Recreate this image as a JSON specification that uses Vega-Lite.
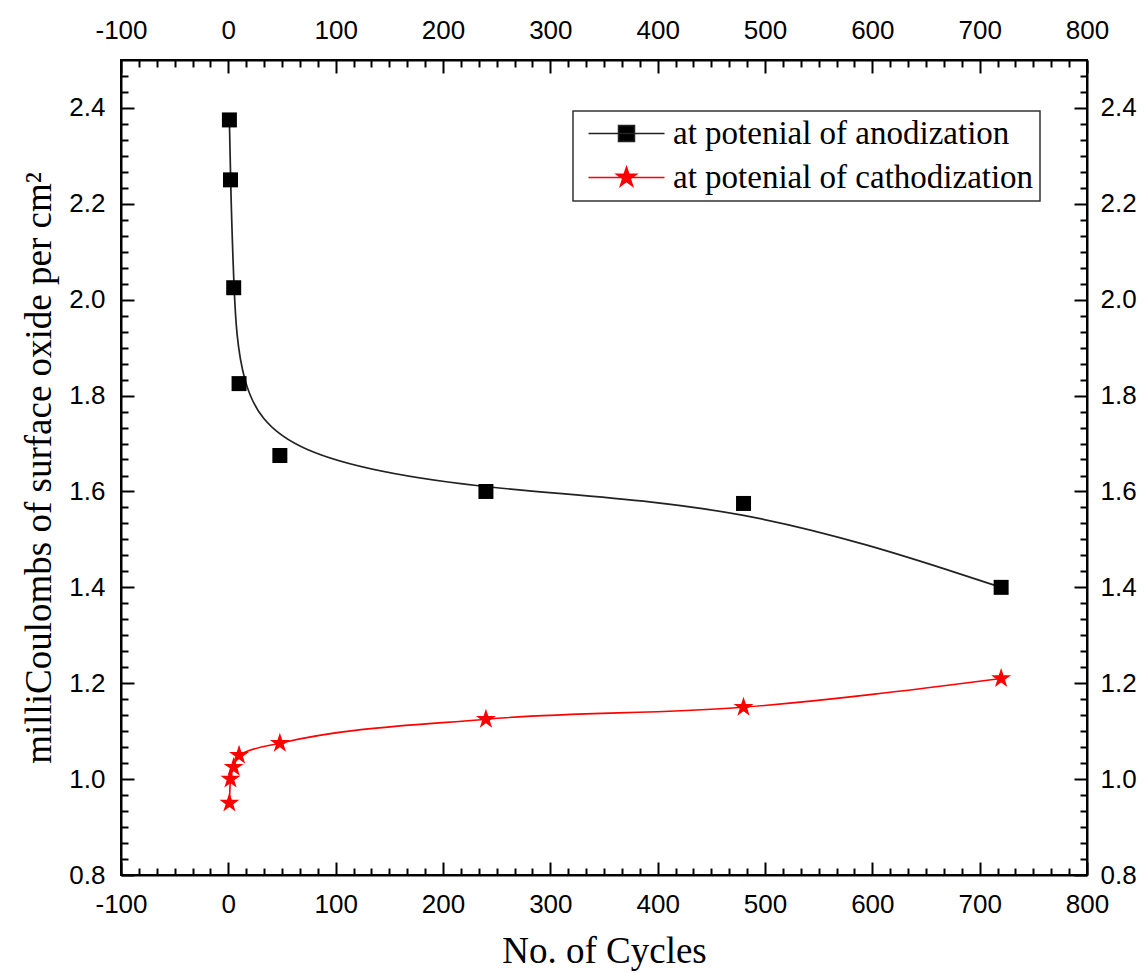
{
  "$schema": "https://vega.github.io/schema/vega-lite/v6.json",
  "width": 966,
  "height": 815,
  "autosize": "none",
  "padding": {"left": 121, "top": 60, "right": 57, "bottom": 98},
  "background": "white",
  "config": {
    "view": {"stroke": "black", "strokeWidth": 2},
    "axis": {
      "grid": false,
      "domainColor": "black",
      "domainWidth": 2,
      "tickColor": "black",
      "tickWidth": 2,
      "labelColor": "black",
      "labelFont": "Liberation Sans",
      "labelFontSize": 26,
      "labelFlush": false,
      "labelOverlap": false,
      "titleColor": "black",
      "titleFont": "Liberation Serif",
      "titleFontSize": 37,
      "titleFontWeight": "normal"
    }
  },
  "data": {
    "values": [
      {"cycles": 1, "charge": 2.375, "series": "at potenial of anodization"},
      {"cycles": 2, "charge": 2.25, "series": "at potenial of anodization"},
      {"cycles": 5, "charge": 2.025, "series": "at potenial of anodization"},
      {"cycles": 10, "charge": 1.825, "series": "at potenial of anodization"},
      {"cycles": 48, "charge": 1.675, "series": "at potenial of anodization"},
      {"cycles": 240, "charge": 1.6, "series": "at potenial of anodization"},
      {"cycles": 480, "charge": 1.575, "series": "at potenial of anodization"},
      {"cycles": 720, "charge": 1.4, "series": "at potenial of anodization"},
      {"cycles": 1, "charge": 0.95, "series": "at potenial of cathodization"},
      {"cycles": 2, "charge": 1.0, "series": "at potenial of cathodization"},
      {"cycles": 5, "charge": 1.025, "series": "at potenial of cathodization"},
      {"cycles": 10, "charge": 1.05, "series": "at potenial of cathodization"},
      {"cycles": 48, "charge": 1.075, "series": "at potenial of cathodization"},
      {"cycles": 240, "charge": 1.125, "series": "at potenial of cathodization"},
      {"cycles": 480, "charge": 1.15, "series": "at potenial of cathodization"},
      {"cycles": 720, "charge": 1.21, "series": "at potenial of cathodization"}
    ]
  },
  "encoding": {
    "x": {"field": "cycles", "type": "quantitative", "scale": {"domain": [-100, 800], "nice": false, "zero": false}},
    "y": {"field": "charge", "type": "quantitative", "scale": {"domain": [0.8, 2.5], "nice": false, "zero": false}}
  },
  "layer": [
    {
      "transform": [{"filter": "datum.series === 'at potenial of anodization'"}],
      "mark": {"type": "line", "color": "#222222", "strokeWidth": 1.7, "interpolate": "basis"},
      "encoding": {
        "x": {"field": "cycles", "type": "quantitative", "axis": {"orient": "bottom", "values": [-100, 0, 100, 200, 300, 400, 500, 600, 700, 800], "labelExpr": "datum.value < 0 ? '-' + abs(datum.value) : '' + datum.value", "tickSize": -13, "labelPadding": 29, "title": "No. of Cycles", "titlePadding": 16}},
        "y": {"field": "charge", "type": "quantitative", "axis": {"orient": "left", "values": [0.8, 1.0, 1.2, 1.4, 1.6, 1.8, 2.0, 2.2, 2.4], "format": ".1f", "tickSize": -13, "labelPadding": 29, "title": "milliCoulombs of surface oxide per cm²", "titlePadding": 10}}
      }
    },
    {
      "transform": [{"filter": "datum.series === 'at potenial of cathodization'"}],
      "mark": {"type": "line", "color": "red", "strokeWidth": 1.6, "interpolate": "monotone"},
      "encoding": {
        "x": {"field": "cycles", "type": "quantitative", "axis": {"orient": "top", "values": [-100, 0, 100, 200, 300, 400, 500, 600, 700, 800], "labelExpr": "datum.value < 0 ? '-' + abs(datum.value) : '' + datum.value", "tickSize": -13, "labelPadding": 30, "title": null}},
        "y": {"field": "charge", "type": "quantitative", "axis": {"orient": "right", "values": [0.8, 1.0, 1.2, 1.4, 1.6, 1.8, 2.0, 2.2, 2.4], "format": ".1f", "tickSize": -13, "labelPadding": 26, "title": null}}
      }
    },
    {
      "mark": {"type": "point", "filled": true, "opacity": 1, "size": 225},
      "encoding": {
        "x": {"field": "cycles", "type": "quantitative", "axis": {"orient": "bottom", "values": [-83.333, -66.667, -50, -33.333, -16.667, 16.667, 33.333, 50, 66.667, 83.333, 116.667, 133.333, 150, 166.667, 183.333, 216.667, 233.333, 250, 266.667, 283.333, 316.667, 333.333, 350, 366.667, 383.333, 416.667, 433.333, 450, 466.667, 483.333, 516.667, 533.333, 550, 566.667, 583.333, 616.667, 633.333, 650, 666.667, 683.333, 716.667, 733.333, 750, 766.667, 783.333], "tickSize": -7, "labels": false, "domain": false, "title": null}},
        "y": {"field": "charge", "type": "quantitative", "axis": {"orient": "left", "values": [0.8333, 0.8667, 0.9, 0.9333, 0.9667, 1.0333, 1.0667, 1.1, 1.1333, 1.1667, 1.2333, 1.2667, 1.3, 1.3333, 1.3667, 1.4333, 1.4667, 1.5, 1.5333, 1.5667, 1.6333, 1.6667, 1.7, 1.7333, 1.7667, 1.8333, 1.8667, 1.9, 1.9333, 1.9667, 2.0333, 2.0667, 2.1, 2.1333, 2.1667, 2.2333, 2.2667, 2.3, 2.3333, 2.3667, 2.4333, 2.4667], "tickSize": -7, "labels": false, "domain": false, "title": null}},
        "color": {
          "field": "series", "type": "nominal",
          "scale": {"domain": ["at potenial of anodization", "at potenial of cathodization"], "range": ["black", "red"]},
          "legend": {
            "title": null,
            "orient": "none",
            "legendX": 452,
            "legendY": 51,
            "strokeColor": "#333333",
            "fillColor": "white",
            "padding": 6,
            "labelFont": "Liberation Serif",
            "labelFontSize": 33,
            "labelColor": "black",
            "labelLimit": 700,
            "symbolSize": 256,
            "symbolOffset": 31,
            "labelOffset": 30,
            "rowPadding": 10,
            "encoding": {
              "symbols": {
                "shape": {"value": {"expr": "datum.value === 'at potenial of anodization' ? 'M-4.75,0H4.75M-1,-1H1V1H-1Z' : 'M-4.75,0H4.75M0,-1.3L0.293,-0.402L1.236,-0.402L0.472,0.153L0.764,1.052L0,0.497L-0.764,1.052L-0.472,0.153L-1.236,-0.402L-0.293,-0.402Z'"}},
                "stroke": {"value": {"expr": "datum.value === 'at potenial of anodization' ? '#222222' : 'red'"}},
                "strokeWidth": {"value": 1.5}
              },
              "legend": {"strokeWidth": {"value": 1.5}}
            }
          }
        },
        "shape": {
          "field": "series", "type": "nominal",
          "scale": {"domain": ["at potenial of cathodization", "at potenial of anodization"], "range": ["M0,-1.4L0.315,-0.433L1.331,-0.433L0.508,0.165L0.823,1.133L0,0.535L-0.823,1.133L-0.508,0.165L-1.331,-0.433L-0.315,-0.433Z", "square"]},
          "legend": null
        }
      }
    },
    {
      "mark": {"type": "point", "opacity": 0},
      "encoding": {
        "x": {"field": "cycles", "type": "quantitative", "axis": {"orient": "top", "values": [-83.333, -66.667, -50, -33.333, -16.667, 16.667, 33.333, 50, 66.667, 83.333, 116.667, 133.333, 150, 166.667, 183.333, 216.667, 233.333, 250, 266.667, 283.333, 316.667, 333.333, 350, 366.667, 383.333, 416.667, 433.333, 450, 466.667, 483.333, 516.667, 533.333, 550, 566.667, 583.333, 616.667, 633.333, 650, 666.667, 683.333, 716.667, 733.333, 750, 766.667, 783.333], "tickSize": -7, "labels": false, "domain": false, "title": null}},
        "y": {"field": "charge", "type": "quantitative", "axis": {"orient": "right", "values": [0.8333, 0.8667, 0.9, 0.9333, 0.9667, 1.0333, 1.0667, 1.1, 1.1333, 1.1667, 1.2333, 1.2667, 1.3, 1.3333, 1.3667, 1.4333, 1.4667, 1.5, 1.5333, 1.5667, 1.6333, 1.6667, 1.7, 1.7333, 1.7667, 1.8333, 1.8667, 1.9, 1.9333, 1.9667, 2.0333, 2.0667, 2.1, 2.1333, 2.1667, 2.2333, 2.2667, 2.3, 2.3333, 2.3667, 2.4333, 2.4667], "tickSize": -7, "labels": false, "domain": false, "title": null}}
      }
    }
  ],
  "resolve": {"axis": {"x": "independent", "y": "independent"}}
}
